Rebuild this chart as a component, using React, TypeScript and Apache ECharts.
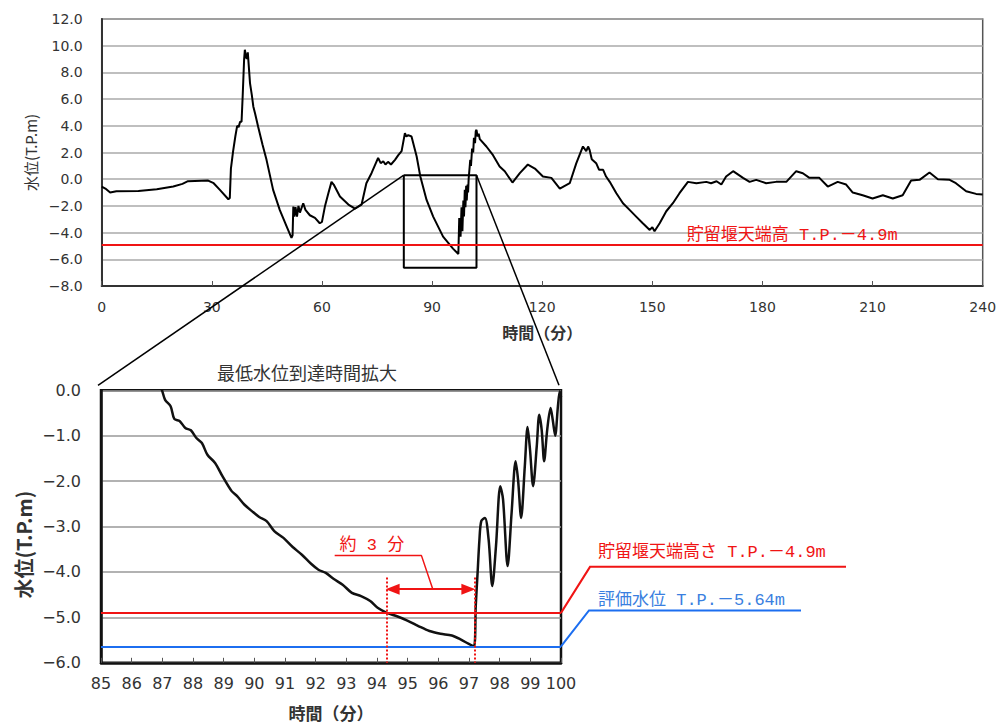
import React, { useEffect, useRef } from "react";
import * as echarts from "echarts";

// ---- main chart: water level over 0–240 min ----
const topTime = [
  0, 1, 2.3, 4, 10, 15, 19.5, 22, 23.5, 29, 30.5, 32.2, 34.5, 34.9, 35.2, 35.8, 36.4, 36.9, 37.3, 37.7,
  38.1, 38.4, 38.8, 39.0, 39.3, 39.5, 39.8, 40.4, 40.9, 41.3, 41.8, 42.6, 43.8, 44.9, 46.7, 48.5,
  50.4, 51.7, 52.0, 52.2, 52.5, 52.8, 53.2, 53.6, 54.0, 54.9, 55.5, 56.7, 58.1, 59.4, 60.0, 60.8,
  61.8, 62.6, 63.2, 64.9, 67.2, 69.0, 70.8, 72.1, 73.5, 75.3, 76.0, 76.7, 77.3, 78.0, 78.8, 79.9,
  80.8, 81.7, 82.6, 83.0, 83.5, 84.4, 85.8, 86.8, 88.5, 90.3, 93.0, 95.7, 97.16, 97.4, 97.76, 98.02,
  98.26, 98.52, 98.7, 98.91, 99.09, 99.29, 99.45, 99.66, 99.81, 99.96, 100.4, 100.6, 100.9, 101.2,
  101.4, 101.7, 101.9, 102.1, 102.4, 102.7, 103.0, 104.8, 106.6, 108.4, 109.8, 111.9, 113.9, 116.1,
  118.0, 120.2, 122.5, 124.8, 127.5, 129.3, 131.1, 132.0, 132.5, 132.9, 133.5, 134.7, 135.5, 136.6,
  137.4, 138.4, 140.2, 142.0, 143.8, 145.6, 147.4, 149.3, 150.0, 150.6, 152.0, 153.8, 155.6, 157.4,
  159.7, 162.0, 164.7, 166.0, 167.5, 168.8, 170.1, 172.0, 174.7, 176.5, 178.3, 181.0, 183.7, 186.5,
  189.2, 191.0, 192.8, 195.5, 197.8, 200.5, 202.8, 204.6, 207.3, 210.0, 212.8, 215.5, 218.2, 220.5,
  222.8, 225.5, 227.8, 231.0, 232.7, 235.5, 238.2, 240.0,
];
const topLevel = [
  -0.55, -0.7, -1.0, -0.9, -0.88, -0.75, -0.55, -0.35, -0.15, -0.1, -0.3, -0.8, -1.5, -1.4, 0.8, 2.1, 3.2, 4.0, 3.9, 4.3,
  4.3, 6.2, 9.0, 9.7, 9.2, 9.0, 9.5, 7.2, 6.3, 5.45, 4.9, 3.95, 2.6, 1.45, -0.8, -2.3,
  -3.55, -4.4, -4.2, -2.05, -2.8, -2.1, -2.8, -2.0, -2.5, -1.8, -2.3, -2.7, -2.9, -3.3, -3.2, -2.05,
  -1.0, -0.2, -0.4, -1.3, -1.9, -2.2, -1.9, -0.3, 0.45, 1.6, 1.2, 1.35, 1.1, 1.3, 1.1, 1.45,
  1.8, 2.1, 3.45, 3.2, 3.3, 3.2, 1.7, 0.2, -1.55, -2.8, -4.3, -5.2, -5.6, -2.9, -4.3, -2.1,
  -3.9, -1.6, -2.8, -0.8, -2.1, -0.5, -1.6, -0.4, -1.0, 0.0, 1.45, 1.0, 2.3, 2.0,
  3.1, 2.7, 3.6, 3.7, 3.2, 3.4, 3.0, 2.45, 1.8, 0.95, 0.6, -0.25, 0.45, 1.1,
  0.8, 0.2, 0.1, -0.7, -0.3, 1.2, 2.45, 2.1, 2.45, 2.2, 1.5, 1.2, 0.7, 0.7,
  0.2, -0.2, -1.05, -1.8, -2.3, -2.8, -3.3, -3.8, -3.6, -3.9, -3.3, -2.4, -1.8, -1.05,
  -0.2, -0.3, -0.2, -0.3, -0.15, -0.4, 0.2, 0.6, 0.1, -0.2, -0.05, -0.3, -0.2, -0.2,
  0.6, 0.45, 0.1, 0.1, -0.55, -0.2, -0.4, -1.0, -1.2, -1.45, -1.2, -1.45, -1.2, -0.1,
  -0.05, 0.5, 0.0, -0.05, -0.3, -0.9, -1.1, -1.15,
];

// ---- enlarged view: 85–100 min ----
const zoomTime = [
  86.8, 86.99, 87.09, 87.27, 87.39, 87.57, 87.75, 87.93, 88.11, 88.29, 88.47, 88.72, 88.96, 89.26, 89.44,
  89.68, 89.92, 90.16, 90.4, 90.65, 90.95, 91.25, 91.55, 91.85, 92.09, 92.33, 92.58, 92.88, 93.18,
  93.48, 93.78, 94.02, 94.32, 94.63, 94.99, 95.35, 95.71, 96.07, 96.44, 96.74, 96.98, 97.16, 97.22,
  97.28, 97.34, 97.4, 97.52, 97.64, 97.76, 97.88, 98.02, 98.11, 98.26, 98.39, 98.52, 98.6, 98.7,
  98.82, 98.91, 98.99, 99.09, 99.21, 99.29, 99.37, 99.45, 99.55, 99.66, 99.73, 99.81, 99.9, 99.96, 100.0,
];
const zoomLevel = [
  0.35, 0, -0.21, -0.35, -0.63, -0.68, -0.83, -0.88, -1.05, -1.16, -1.42, -1.6, -1.89, -2.22, -2.33,
  -2.52, -2.66, -2.79, -2.88, -3.1, -3.25, -3.45, -3.62, -3.82, -3.95, -4.02, -4.15, -4.28, -4.46,
  -4.53, -4.64, -4.79, -4.9, -4.97, -5.07, -5.19, -5.3, -5.36, -5.4, -5.49, -5.58, -5.64, -4.75,
  -4.02, -3.29, -2.88, -2.81, -3.29, -4.31, -3.43, -2.11, -2.4, -3.87, -2.69, -1.56, -1.97, -2.81,
  -1.67, -0.81, -1.31, -2.11, -1.23, -0.54, -0.87, -1.56, -0.87, -0.39, -0.65, -1.0, -0.35, -0.02, -0.15,
];

// reference levels and annotations
const crestLevel = -4.9; // 貯留堰天端高
const evalLevel = -5.64; // 評価水位
const boxTime = [82.3, 102.1];
const boxLevel = [0.3, -6.63];
const gapTime = [94.31, 97.18]; // 約3分
const gapLevel = -4.38;
const leaderTime = [95.82, 95.45, 92.62];
const leaderLevel = [-4.38, -3.64, -3.64];

const topLabelText = "貯留堰天端高 T.P.－4.9m";
const crestLabelText = "貯留堰天端高さ T.P.－4.9m";
const evalLabelText = "評価水位 T.P.－5.64m";
const zoomTitle = "最低水位到達時間拡大";
const gapText = "約 3 分";

const RED = "#f01414";
const BLUE = "#1c6ef0";
const numFont = "'DejaVu Sans', sans-serif";
const jpFont = "'Noto Sans CJK JP', sans-serif";
const monoJp = "'Liberation Mono', 'Noto Sans CJK JP', monospace";

const fmt = (v: number) => v.toFixed(1).replace("-", "\u2212");
const pairs = (xs: number[], ys: number[]) => xs.map((x, i) => [x, ys[i]]);

export default function App() {
  const ref = useRef<HTMLDivElement>(null);
  useEffect(() => {
    if (!ref.current) return;
    const chart = echarts.init(ref.current, null, { renderer: "svg" });
    const option: any = {
      animation: false,
      backgroundColor: "#ffffff",
      grid: [
        { left: 101.7, top: 19, width: 881, height: 267, show: true, borderColor: "#555", borderWidth: 1.5 },
        { left: 101, top: 390.3, width: 460, height: 272.5, show: true, borderColor: "#111", borderWidth: 2.5 },
      ],
      xAxis: [
        {
          type: "value", gridIndex: 0, min: 0, max: 240, interval: 30,
          axisLine: { onZero: false, lineStyle: { color: "#333", width: 2 } },
          axisTick: { inside: true, length: 5, lineStyle: { color: "#555" } },
          splitLine: { show: false },
          axisLabel: { fontSize: 14, color: "#333", margin: 14, fontFamily: numFont },
          name: "時間（分）", nameLocation: "middle", nameGap: 38,
          nameTextStyle: { fontSize: 16, fontWeight: "bold", color: "#333", fontFamily: jpFont },
        },
        {
          type: "value", gridIndex: 1, min: 85, max: 100, interval: 1,
          axisLine: { onZero: false, lineStyle: { color: "#111", width: 2.5 } },
          axisTick: { inside: true, length: 5, lineStyle: { color: "#555" } },
          splitLine: { show: false },
          axisLabel: { fontSize: 16, color: "#333", margin: 13, fontFamily: numFont },
          name: "時間（分）", nameLocation: "middle", nameGap: 41,
          nameTextStyle: { fontSize: 17, fontWeight: "bold", color: "#333", fontFamily: jpFont },
        },
      ],
      yAxis: [
        {
          type: "value", gridIndex: 0, min: -8, max: 12, interval: 2,
          axisLine: { show: true, onZero: false, lineStyle: { color: "#333", width: 2 } },
          axisTick: { show: false },
          splitLine: { lineStyle: { color: "#aaa", width: 1.5 } },
          axisLabel: { fontSize: 14, color: "#333", margin: 19, fontFamily: numFont, formatter: fmt },
          name: "水位(T.P.m)", nameLocation: "middle", nameGap: 60,
          nameTextStyle: { fontSize: 15, color: "#333", fontFamily: jpFont },
        },
        {
          type: "value", gridIndex: 1, min: -6, max: 0, interval: 1,
          axisLine: { show: true, onZero: false, lineStyle: { color: "#111", width: 2.5 } },
          axisTick: { show: false },
          splitLine: { lineStyle: { color: "#999", width: 1.5 } },
          axisLabel: { fontSize: 16, color: "#333", margin: 20, fontFamily: numFont, formatter: fmt },
          name: "水位(T.P.m)", nameLocation: "middle", nameGap: 68,
          nameTextStyle: { fontSize: 20, fontWeight: "bold", color: "#333", fontFamily: jpFont, padding: [0, 36, 0, 0] },
        },
      ],
      series: [
        {
          type: "line", xAxisIndex: 0, yAxisIndex: 0, data: pairs(topTime, topLevel),
          showSymbol: false, symbol: "none", lineStyle: { color: "#000", width: 2 }, z: 3,
          markLine: {
            silent: true, symbol: "none", label: { show: false },
            data: [{ yAxis: crestLevel, lineStyle: { color: RED, width: 2, type: "solid" } }],
          },
        },
        {
          type: "line", xAxisIndex: 0, yAxisIndex: 0,
          data: pairs(
            [boxTime[0], boxTime[1], boxTime[1], boxTime[0], boxTime[0]],
            [boxLevel[0], boxLevel[0], boxLevel[1], boxLevel[1], boxLevel[0]]
          ),
          showSymbol: false, symbol: "none", lineStyle: { color: "#000", width: 2 }, z: 4,
        },
        {
          type: "line", xAxisIndex: 1, yAxisIndex: 1, data: pairs(zoomTime, zoomLevel),
          showSymbol: false, symbol: "none", smooth: 0.3, lineStyle: { color: "#111", width: 2.5 }, z: 3,
          markLine: {
            silent: true, symbol: "none", label: { show: false },
            data: [
              { yAxis: crestLevel, lineStyle: { color: RED, width: 2, type: "solid" } },
              { yAxis: evalLevel, lineStyle: { color: BLUE, width: 2, type: "solid" } },
              [
                { coord: [gapTime[0], -4.12], lineStyle: { color: RED, width: 2, type: "dotted" } },
                { coord: [gapTime[0], -6] },
              ],
              [
                { coord: [gapTime[1], -4.12], lineStyle: { color: RED, width: 2, type: "dotted" } },
                { coord: [gapTime[1], -6] },
              ],
            ],
          },
        },
        {
          type: "line", xAxisIndex: 1, yAxisIndex: 1, data: pairs(leaderTime, leaderLevel),
          showSymbol: false, symbol: "none", lineStyle: { color: RED, width: 1.5 }, z: 4,
          markLine: {
            silent: true, symbol: ["triangle", "triangle"], symbolSize: [11, 14],
            label: { show: false },
            lineStyle: { color: RED, width: 2, type: "solid" },
            data: [[{ coord: [gapTime[0] + 0.2, gapLevel] }, { coord: [gapTime[1] - 0.2, gapLevel] }]],
          },
        },
      ],
    };
    chart.setOption(option);

    const p = (g: number, x: number, y: number) => chart.convertToPixel({ gridIndex: g } as any, [x, y]) as number[];
    const tl = p(0, boxTime[0], boxLevel[0]);
    const tr = p(0, boxTime[1], boxLevel[0]);
    const bl = p(1, 85, 0);
    const br = p(1, 100, 0);
    const cE = p(1, 100, crestLevel);
    const eE = p(1, 100, evalLevel);
    const topLab = p(0, 159.4, crestLevel);
    const note = p(1, 92.78, -3.41);

    chart.setOption({
      graphic: [
        { type: "line", z: 100, shape: { x1: tl[0], y1: tl[1], x2: bl[0] - 3, y2: bl[1] - 5 }, style: { stroke: "#000", lineWidth: 1.5 } },
        { type: "line", z: 100, shape: { x1: tr[0], y1: tr[1], x2: br[0] - 2, y2: br[1] - 5 }, style: { stroke: "#000", lineWidth: 1.5 } },
        {
          type: "text", z: 100, x: bl[0] + 206, y: bl[1] - 18,
          style: { text: zoomTitle, fontSize: 18, fontFamily: jpFont, fill: "#333", align: "center", verticalAlign: "middle" },
        },
        {
          type: "text", z: 100, x: topLab[0], y: topLab[1] - 9,
          style: { text: topLabelText, fontSize: 17, fontFamily: monoJp, fill: RED, align: "left", verticalAlign: "middle" },
        },
        {
          type: "polyline", z: 100,
          shape: { points: [[cE[0], cE[1]], [cE[0] + 29, cE[1] - 46], [cE[0] + 285, cE[1] - 46]] },
          style: { stroke: RED, lineWidth: 2, fill: null },
        },
        {
          type: "polyline", z: 100,
          shape: { points: [[eE[0], eE[1]], [eE[0] + 28, eE[1] - 36], [eE[0] + 240, eE[1] - 36]] },
          style: { stroke: BLUE, lineWidth: 2, fill: null },
        },
        {
          type: "text", z: 100, x: cE[0] + 37, y: cE[1] - 60,
          style: { text: crestLabelText, fontSize: 17, fontFamily: monoJp, fill: RED, align: "left", verticalAlign: "middle" },
        },
        {
          type: "text", z: 100, x: eE[0] + 37, y: eE[1] - 46,
          style: { text: evalLabelText, fontSize: 17, fontFamily: monoJp, fill: "#3a7fe0", align: "left", verticalAlign: "middle" },
        },
        {
          type: "text", z: 100, x: note[0], y: note[1],
          style: { text: gapText, fontSize: 17, fontFamily: monoJp, fill: RED, align: "left", verticalAlign: "middle" },
        },
      ],
    });
    return () => chart.dispose();
  }, []);
  return (
    <div
      ref={ref}
      style={{ position: "absolute", left: 0, top: 0, width: 1002, height: 727, background: "#fff" }}
    />
  );
}
